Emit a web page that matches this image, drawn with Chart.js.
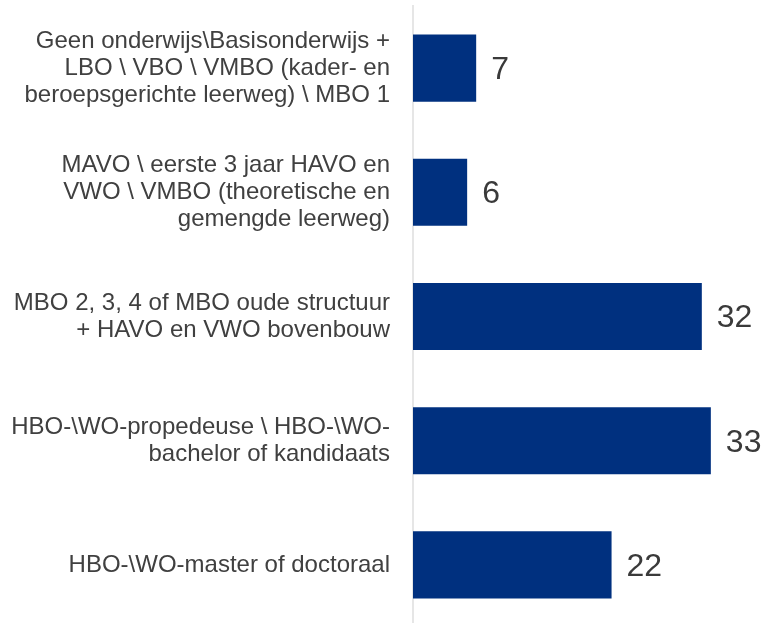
<!DOCTYPE html>
<html>
<head>
<meta charset="utf-8">
<script src="https://cdn.jsdelivr.net/npm/chart.js@4"></script>
<style>
  html, body { margin: 0; padding: 0; background: #fff; overflow: hidden; }
  canvas { display: block; }
</style>
</head>
<body>
<canvas id="eduChart" width="767" height="627"></canvas>
<script>
// Categories (multi-line tick labels)
const categories = [
    ['Geen onderwijs\\Basisonderwijs +', 'LBO \\ VBO \\ VMBO (kader- en', 'beroepsgerichte leerweg) \\ MBO 1'],
    ['MAVO \\ eerste 3 jaar HAVO en', 'VWO \\ VMBO (theoretische en', 'gemengde leerweg)'],
    ['MBO 2, 3, 4 of MBO oude structuur', '+ HAVO en VWO bovenbouw'],
    ['HBO-\\WO-propedeuse \\ HBO-\\WO-', 'bachelor of kandidaats'],
    ['HBO-\\WO-master of doctoraal']
];
const values = [7, 6, 32, 33, 22];

// Value labels right of each bar
const valueLabels = {
    id: 'valueLabels',
    afterDatasetsDraw(chart) {
        const ctx = chart.ctx;
        const meta = chart.getDatasetMeta(0);
        ctx.save();
        ctx.font = '32px Arial, "Liberation Sans", sans-serif';
        ctx.fillStyle = '#3a3a3a';
        ctx.textAlign = 'left';
        ctx.textBaseline = 'middle';
        meta.data.forEach((bar, i) => {
            ctx.fillText(String(values[i]), bar.x + 15, bar.y + 2);
        });
        ctx.restore();
    }
};

const data = {
    labels: categories,
    datasets: [{
        data: values,
        backgroundColor: '#00307f',
        borderWidth: 0,
        barPercentage: 0.54,
        categoryPercentage: 1
    }]
};

const config = {
    type: 'bar',
    data: data,
    options: {
        indexAxis: 'y',
        responsive: false,
        animation: false,
        layout: { padding: { top: 6, right: 2, bottom: 0, left: 0 } },
        plugins: {
            legend: { display: false },
            tooltip: { enabled: false }
        },
        scales: {
            x: {
                display: false,
                min: 0,
                max: 39
            },
            y: {
                afterFit(scale) {
                    scale.width = 413;
                    // multi-line labels would otherwise pad the chart area
                    scale.paddingTop = 0;
                    scale.paddingBottom = 0;
                },
                grid: { display: false, drawTicks: false },
                border: { display: true, color: '#e6e6e6', width: 2 },
                ticks: {
                    padding: 23,
                    color: '#404040',
                    font: { family: 'Arial, "Liberation Sans", sans-serif', size: 24, lineHeight: '27px' }
                }
            }
        }
    },
    plugins: [valueLabels]
};

const eduChart = new Chart(document.getElementById('eduChart'), config);
</script>
</body>
</html>
